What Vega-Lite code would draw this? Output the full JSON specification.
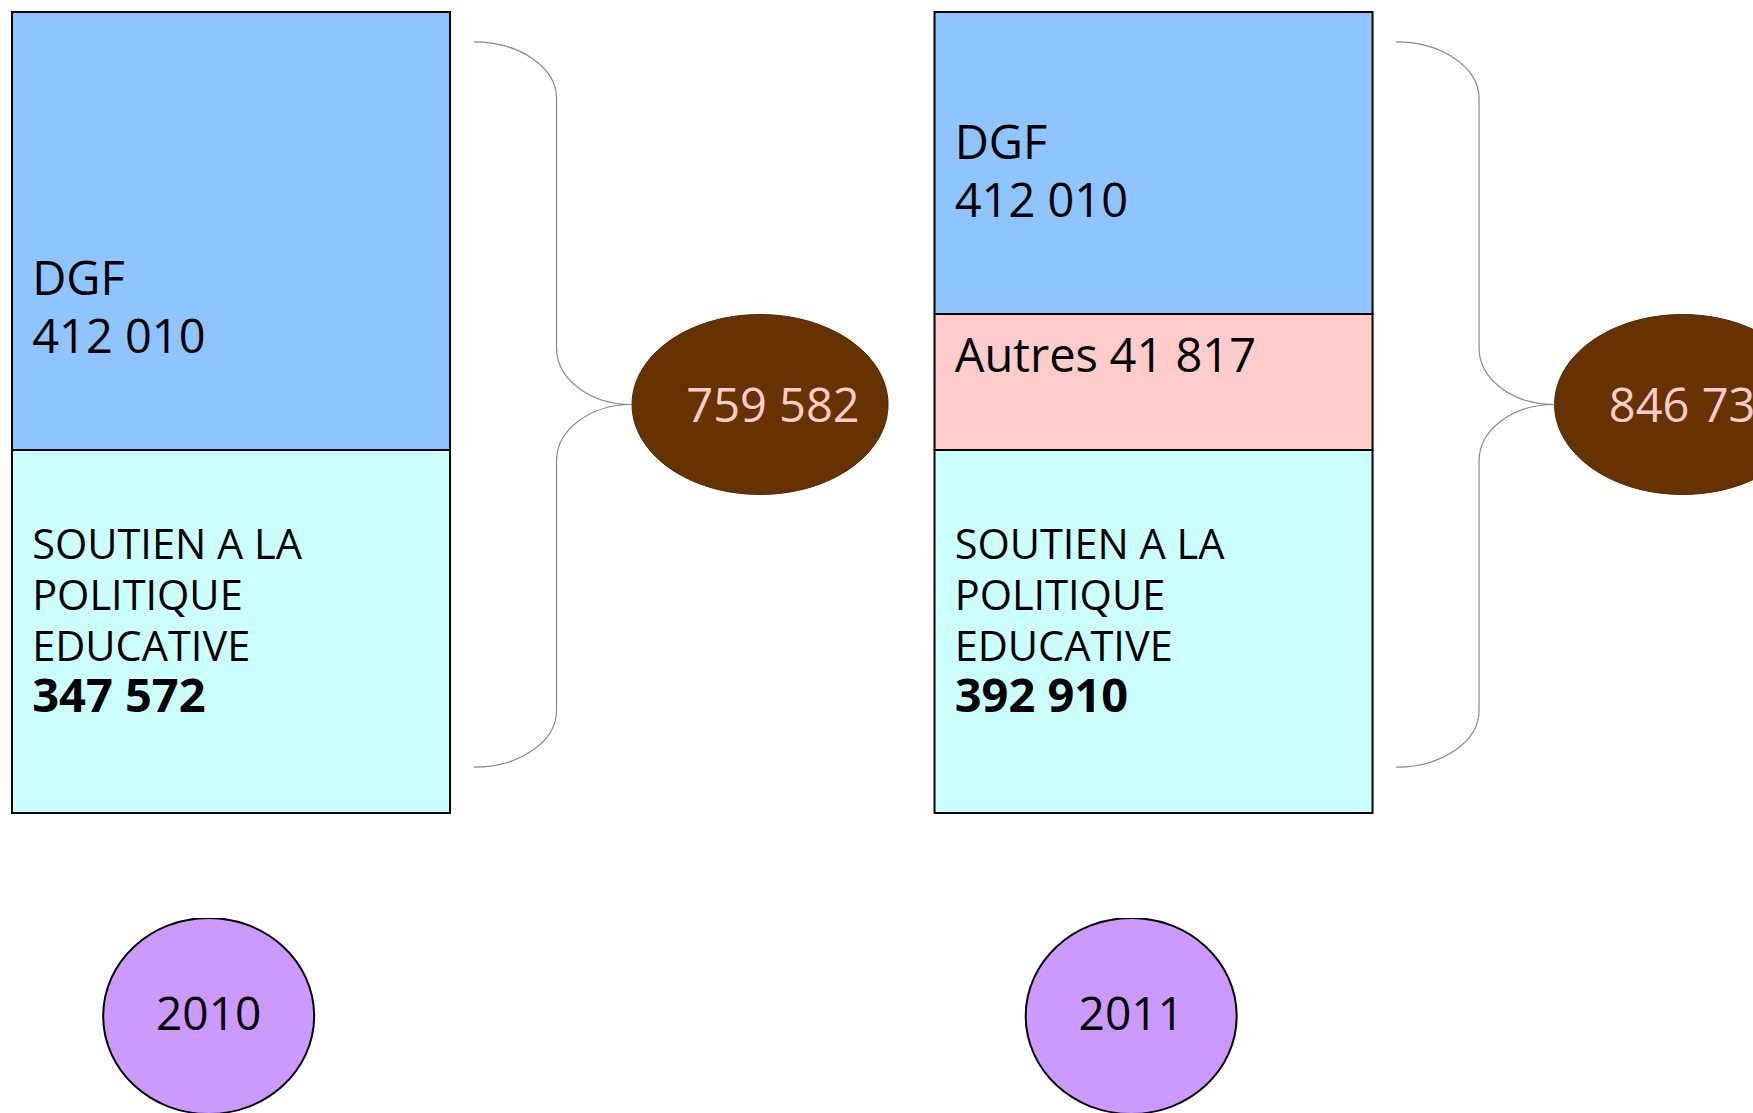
{
  "$schema": "https://vega.github.io/schema/vega-lite/v6.json",
  "autosize": {"type": "pad"},
  "bounds": "flush",
  "padding": {"left": 11, "top": 11, "right": 0, "bottom": 0},
  "background": "white",
  "datasets": {
    "postes": [
      {"annee": "2010", "poste": "SOUTIEN A LA POLITIQUE EDUCATIVE", "libelle": "SOUTIEN A LA\nPOLITIQUE\nEDUCATIVE", "rang": 1, "montant": 347572},
      {"annee": "2010", "poste": "DGF", "libelle": "DGF", "rang": 3, "montant": 412010},
      {"annee": "2011", "poste": "SOUTIEN A LA POLITIQUE EDUCATIVE", "libelle": "SOUTIEN A LA\nPOLITIQUE\nEDUCATIVE", "rang": 1, "montant": 392910},
      {"annee": "2011", "poste": "Autres", "libelle": "Autres", "rang": 2, "montant": 41817},
      {"annee": "2011", "poste": "DGF", "libelle": "DGF", "rang": 3, "montant": 412010}
    ],
    "totaux": [
      {"annee": "2010", "total": 759582},
      {"annee": "2011", "total": 846737}
    ]
  },
  "spacing": 105,
  "vconcat": [
    {
      "width": 1742,
      "height": 801,
      "layer": [
        {
          "data": {"name": "postes"},
          "transform": [
            {"stack": "montant", "groupby": ["annee"], "sort": [{"field": "rang", "order": "ascending"}], "offset": "normalize", "as": ["debut", "fin"]}
          ],
          "mark": {"type": "bar", "stroke": "black", "strokeWidth": 2, "opacity": 1},
          "encoding": {
            "x": {"field": "annee", "type": "nominal", "axis": null, "scale": {"type": "band", "domain": ["2010", "2011"], "paddingInner": 0.5252, "paddingOuter": 0.20675, "align": 0}},
            "y": {"field": "debut", "type": "quantitative", "axis": null, "scale": {"domain": [0, 0.457583, 0.464031, 0.513415, 1], "range": [801, 438, 438, 302, 0], "nice": false, "zero": false}},
            "y2": {"field": "fin"},
            "color": {"field": "poste", "type": "nominal", "legend": null, "scale": {"domain": ["DGF", "Autres", "SOUTIEN A LA POLITIQUE EDUCATIVE"], "range": ["#8EC4FF", "#FFCCCC", "#CCFFFF"]}}
          }
        },
        {
          "data": {"name": "postes"},
          "transform": [
            {"stack": "montant", "groupby": ["annee"], "sort": [{"field": "rang", "order": "ascending"}], "offset": "normalize", "as": ["debut", "fin"]},
            {"filter": "datum.poste === 'DGF'"}
          ],
          "mark": {"type": "text", "align": "left", "baseline": "alphabetic", "font": "Open Sans", "fontSize": 47, "dy": -155, "fill": "black"},
          "encoding": {
            "x": {"field": "annee", "type": "nominal", "axis": null, "bandPosition": 0.046},
            "y": {"field": "debut", "type": "quantitative", "axis": null},
            "text": {"field": "libelle"}
          }
        },
        {
          "data": {"name": "postes"},
          "transform": [
            {"stack": "montant", "groupby": ["annee"], "sort": [{"field": "rang", "order": "ascending"}], "offset": "normalize", "as": ["debut", "fin"]},
            {"filter": "datum.poste === 'DGF'"}
          ],
          "mark": {"type": "text", "align": "left", "baseline": "alphabetic", "font": "Open Sans", "fontSize": 47, "dy": -97, "fill": "black"},
          "encoding": {
            "x": {"field": "annee", "type": "nominal", "axis": null, "bandPosition": 0.046},
            "y": {"field": "debut", "type": "quantitative", "axis": null},
            "text": {"field": "montant", "type": "quantitative", "format": ",d"}
          }
        },
        {
          "data": {"name": "postes"},
          "transform": [
            {"stack": "montant", "groupby": ["annee"], "sort": [{"field": "rang", "order": "ascending"}], "offset": "normalize", "as": ["debut", "fin"]},
            {"filter": "datum.poste === 'Autres'"}
          ],
          "mark": {"type": "text", "align": "left", "baseline": "alphabetic", "font": "Open Sans", "fontSize": 47, "dy": 58, "fill": "black"},
          "encoding": {
            "x": {"field": "annee", "type": "nominal", "axis": null, "bandPosition": 0.046},
            "y": {"field": "fin", "type": "quantitative", "axis": null},
            "text": {"field": "libelle"}
          }
        },
        {
          "data": {"name": "postes"},
          "transform": [
            {"stack": "montant", "groupby": ["annee"], "sort": [{"field": "rang", "order": "ascending"}], "offset": "normalize", "as": ["debut", "fin"]},
            {"filter": "datum.poste === 'Autres'"}
          ],
          "mark": {"type": "text", "align": "left", "baseline": "alphabetic", "font": "Open Sans", "fontSize": 47, "dy": 58, "fill": "black"},
          "encoding": {
            "x": {"field": "annee", "type": "nominal", "axis": null, "bandPosition": 0.3995},
            "y": {"field": "fin", "type": "quantitative", "axis": null},
            "text": {"field": "montant", "type": "quantitative", "format": ",d"}
          }
        },
        {
          "data": {"name": "postes"},
          "transform": [
            {"stack": "montant", "groupby": ["annee"], "sort": [{"field": "rang", "order": "ascending"}], "offset": "normalize", "as": ["debut", "fin"]},
            {"filter": "datum.rang === 1"}
          ],
          "mark": {"type": "text", "align": "left", "baseline": "alphabetic", "font": "Open Sans", "fontSize": 41.5, "lineBreak": "\n", "lineHeight": 51, "dy": 109, "fill": "black"},
          "encoding": {
            "x": {"field": "annee", "type": "nominal", "axis": null, "bandPosition": 0.046},
            "y": {"field": "fin", "type": "quantitative", "axis": null},
            "text": {"field": "libelle"}
          }
        },
        {
          "data": {"name": "postes"},
          "transform": [
            {"stack": "montant", "groupby": ["annee"], "sort": [{"field": "rang", "order": "ascending"}], "offset": "normalize", "as": ["debut", "fin"]},
            {"filter": "datum.rang === 1"}
          ],
          "mark": {"type": "text", "align": "left", "baseline": "alphabetic", "font": "Open Sans", "fontSize": 47, "fontWeight": "bold", "dy": 262, "fill": "black"},
          "encoding": {
            "x": {"field": "annee", "type": "nominal", "axis": null, "bandPosition": 0.046},
            "y": {"field": "fin", "type": "quantitative", "axis": null},
            "text": {"field": "montant", "type": "quantitative", "format": ",d"}
          }
        },
        {
          "data": {"name": "totaux"},
          "mark": {"type": "point", "clip": true, "shape": "M -0.2288 -1.022 C -0.1026 -1.022 0 -0.952 0 -0.8657 L 0 -0.1775 C 0 -0.0918 0.0926 -0.022 0.2068 -0.022 C 0.0926 -0.022 0 0.0478 0 0.1335 L 0 0.8217 C 0 0.908 -0.1026 0.978 -0.2288 0.978", "size": 526205, "filled": false, "stroke": "#8a8a8a", "strokeWidth": 1.2, "opacity": 1},
          "encoding": {
            "x": {"field": "annee", "type": "nominal", "axis": null, "bandPosition": 1.2432}
          }
        },
        {
          "data": {"name": "totaux"},
          "mark": {"type": "point", "clip": true, "shape": "M -1 -0.0625 C -1 -0.4508 -0.5523 -0.7655 0 -0.7655 C 0.5523 -0.7655 1 -0.4508 1 -0.0625 C 1 0.3258 0.5523 0.6405 0 0.6405 C -0.5523 0.6405 -1 0.3258 -1 -0.0625 Z", "size": 65536, "filled": true, "fill": "#663300", "stroke": "#4f2700", "strokeWidth": 1, "opacity": 1},
          "encoding": {
            "x": {"field": "annee", "type": "nominal", "axis": null, "bandPosition": 1.7078}
          }
        },
        {
          "data": {"name": "totaux"},
          "mark": {"type": "text", "clip": true, "align": "center", "baseline": "middle", "font": "Open Sans", "fontSize": 47, "dy": -5, "fill": "#FFCCCC"},
          "encoding": {
            "x": {"field": "annee", "type": "nominal", "axis": null, "bandPosition": 1.7374},
            "text": {"field": "total", "type": "quantitative", "format": ",d"}
          }
        }
      ]
    },
    {
      "width": 1742,
      "height": 196,
      "data": {"name": "totaux"},
      "layer": [
        {
          "mark": {"type": "point", "clip": true, "shape": "M -1 0 C -1 -0.5131 -0.5523 -0.929 0 -0.929 C 0.5523 -0.929 1 -0.5131 1 0 C 1 0.5131 0.5523 0.929 0 0.929 C -0.5523 0.929 -1 0.5131 -1 0 Z", "size": 44521, "filled": true, "fill": "#CC99FF", "stroke": "black", "strokeWidth": 2, "opacity": 1},
          "encoding": {
            "x": {"field": "annee", "type": "nominal", "axis": null, "bandPosition": 0.449, "scale": {"type": "band", "domain": ["2010", "2011"], "paddingInner": 0.5252, "paddingOuter": 0.20675, "align": 0}}
          }
        },
        {
          "mark": {"type": "text", "clip": true, "align": "center", "baseline": "middle", "font": "Open Sans", "fontSize": 46, "fill": "black"},
          "encoding": {
            "x": {"field": "annee", "type": "nominal", "axis": null, "bandPosition": 0.449},
            "text": {"field": "annee"}
          }
        }
      ]
    }
  ],
  "config": {
    "view": {"stroke": null},
    "locale": {"number": {"decimal": ",", "thousands": " ", "grouping": [3], "currency": ["", " €"]}}
  }
}
